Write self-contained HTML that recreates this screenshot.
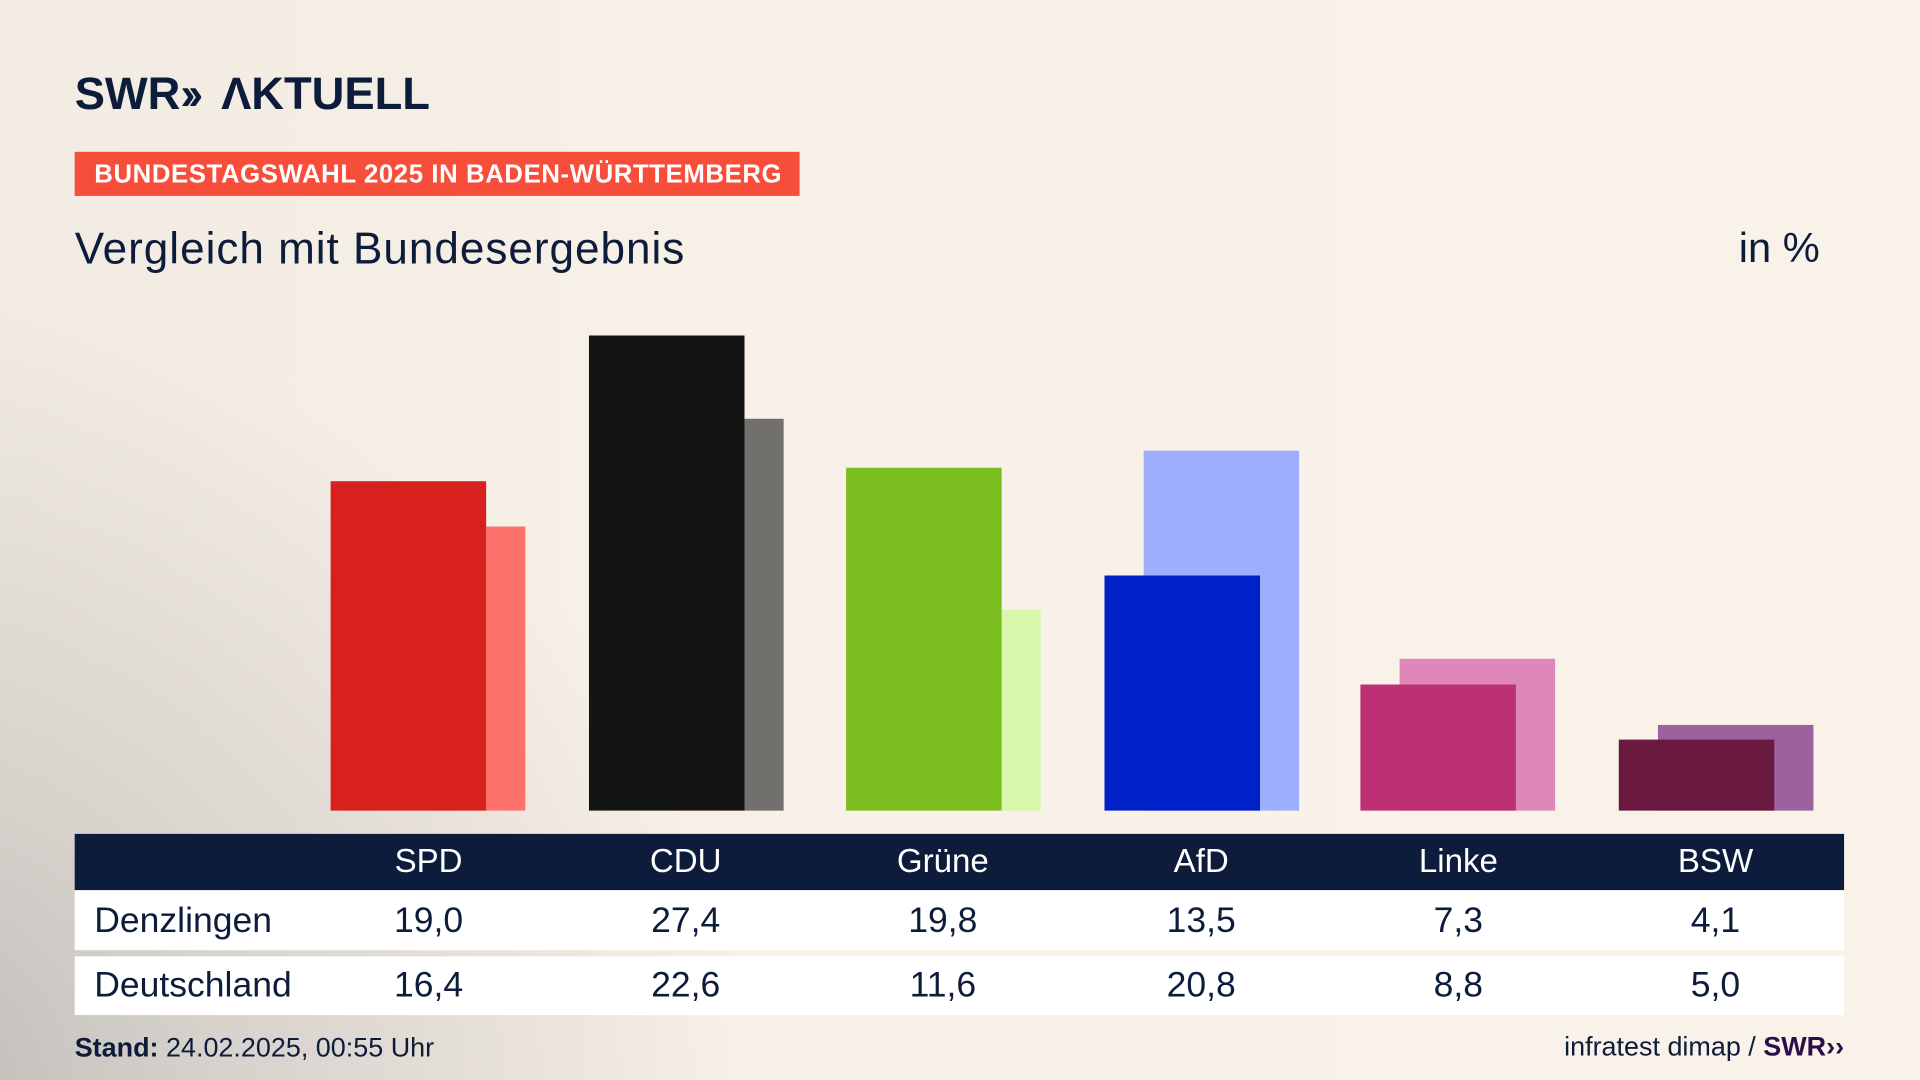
<!DOCTYPE html>
<html><head><meta charset="utf-8"><style>
html,body{margin:0;padding:0;width:1920px;height:1080px;overflow:hidden}
body{background:#f8f1e7}
#bg{position:absolute;left:0;top:0;width:1920px;height:1080px;
background:radial-gradient(ellipse 900px 800px at -150px 1100px,#b9b7b4 0%,#d6d1cb 40%,rgba(248,241,231,0) 100%),linear-gradient(90deg,#f1ebe3 0%,#f8f1e7 40%,#f9f2e8 100%);}
#c{position:absolute;left:0;top:0;width:1568px;height:882px;transform:scale(1.22449);transform-origin:0 0;font-family:"Liberation Sans",sans-serif;color:#0c1c3a}
.a{position:absolute}
.b{position:absolute;bottom:220px}
.td{position:absolute;width:160px;text-align:center;font-size:29px}
</style></head><body><div id="bg"></div>
<div id="c">
<div class="a" style="left:61px;top:56px;font-size:37px;font-weight:bold;letter-spacing:0px;">SWR<span style="letter-spacing:-6px">››</span>&nbsp; ΛKTUELL</div>
<div class="a" style="left:61px;top:124px;width:592px;height:36px;background:#f74e3b;color:#fff;font-weight:bold;font-size:21px;letter-spacing:0.5px;line-height:37px;text-indent:16px;white-space:nowrap">BUNDESTAGSWAHL 2025 IN BADEN-WÜRTTEMBERG</div>
<div class="a" style="left:61px;top:182px;font-size:36px;letter-spacing:0.8px">Vergleich mit Bundesergebnis</div>
<div class="a" style="left:1420px;top:184px;font-size:34px">in %</div>

<div class="b" style="left:397px;width:32px;height:232px;background:#ff716b"></div>
<div class="b" style="left:270px;width:127px;height:269px;background:#d8201e"></div>
<div class="b" style="left:608px;width:32px;height:320px;background:#72706d"></div>
<div class="b" style="left:481px;width:127px;height:388px;background:#141414"></div>
<div class="b" style="left:818px;width:32px;height:164px;background:#d8f7ad"></div>
<div class="b" style="left:691px;width:127px;height:280px;background:#79bd1e"></div>
<div class="b" style="left:934px;width:127px;height:294px;background:#9daeff"></div>
<div class="b" style="left:902px;width:127px;height:192px;background:#0020c8"></div>
<div class="b" style="left:1143px;width:127px;height:124px;background:#dd88b8"></div>
<div class="b" style="left:1111px;width:127px;height:103px;background:#bd3075"></div>
<div class="b" style="left:1354px;width:127px;height:70px;background:#9c62a0"></div>
<div class="b" style="left:1322px;width:127px;height:58px;background:#6a1a40"></div>

<div class="a" style="left:61px;top:681px;width:1445px;height:46px;background:#0c1c3a"></div>
<div class="a" style="left:61px;top:727px;width:1445px;height:49px;background:#fff"></div>
<div class="a" style="left:61px;top:781px;width:1445px;height:48px;background:#fff"></div>
<div class="a" style="left:77px;top:736px;font-size:29px">Denzlingen</div>
<div class="a" style="left:77px;top:789px;font-size:29px">Deutschland</div>
<div style="color:#fff">
<div class="td" style="left:270px;top:688px;font-size:27px">SPD</div>
<div class="td" style="left:480px;top:688px;font-size:27px">CDU</div>
<div class="td" style="left:690px;top:688px;font-size:27px">Grüne</div>
<div class="td" style="left:901px;top:688px;font-size:27px">AfD</div>
<div class="td" style="left:1111px;top:688px;font-size:27px">Linke</div>
<div class="td" style="left:1321px;top:688px;font-size:27px">BSW</div>
</div>
<div class="td" style="left:270px;top:736px">19,0</div>
<div class="td" style="left:480px;top:736px">27,4</div>
<div class="td" style="left:690px;top:736px">19,8</div>
<div class="td" style="left:901px;top:736px">13,5</div>
<div class="td" style="left:1111px;top:736px">7,3</div>
<div class="td" style="left:1321px;top:736px">4,1</div>
<div class="td" style="left:270px;top:789px">16,4</div>
<div class="td" style="left:480px;top:789px">22,6</div>
<div class="td" style="left:690px;top:789px">11,6</div>
<div class="td" style="left:901px;top:789px">20,8</div>
<div class="td" style="left:1111px;top:789px">8,8</div>
<div class="td" style="left:1321px;top:789px">5,0</div>

<div class="a" style="left:61px;top:843px;font-size:22px"><b>Stand:</b> 24.02.2025, 00:55 Uhr</div>
<div class="a" style="right:62px;top:842px;font-size:22px;white-space:nowrap">infratest dimap / <b style="color:#2a0f4a">SWR››</b></div>
</div>
</body></html>
